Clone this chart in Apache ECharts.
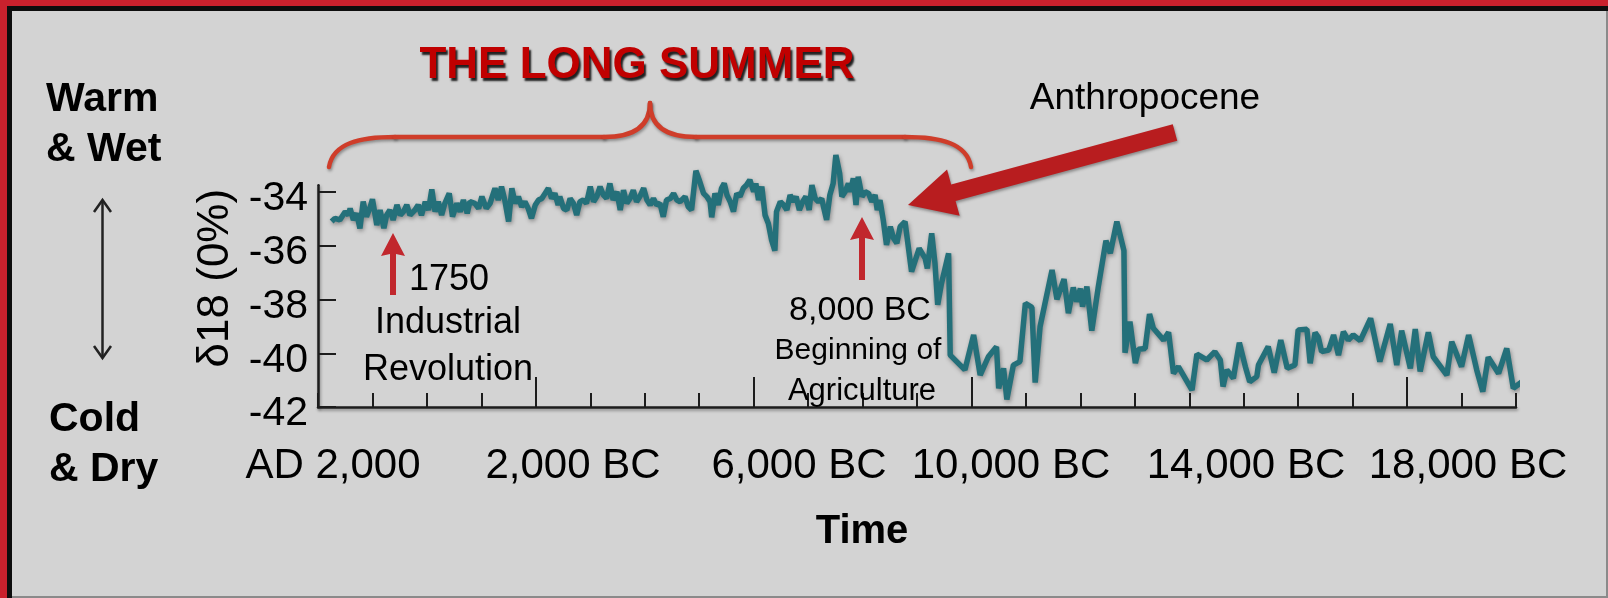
<!DOCTYPE html>
<html><head><meta charset="utf-8">
<script src="https://cdn.jsdelivr.net/npm/echarts@6/dist/echarts.min.js"></script>
<style>html,body{margin:0;padding:0;background:#d3d3d3;}#c{width:1608px;height:598px;}</style>
</head><body><div id="c"></div>
<script>
// ages in thousands of years before AD 2000, values = delta18O
const holoceneLate = [[0.25,-35.10],[0.31,-34.98],[0.40,-35.04],[0.50,-34.73],[0.56,-34.86],[0.59,-34.61],[0.65,-35.04],[0.71,-34.79],[0.77,-35.35],[0.83,-34.36],[0.89,-34.92],[0.96,-34.55],[1.00,-34.27],[1.08,-35.23],[1.14,-34.67],[1.21,-35.35],[1.26,-34.86],[1.32,-34.67],[1.38,-35.04],[1.45,-34.48],[1.51,-34.86],[1.57,-34.73],[1.63,-34.48],[1.69,-34.86],[1.78,-34.67],[1.84,-34.48],[1.90,-34.86],[1.97,-34.36],[2.03,-34.67],[2.09,-33.90],[2.15,-34.73],[2.21,-34.36],[2.27,-34.86],[2.33,-34.42],[2.41,-34.05],[2.47,-34.92],[2.55,-34.42],[2.61,-34.73],[2.67,-34.30],[2.74,-34.79],[2.79,-34.36],[2.88,-34.42],[2.95,-34.61],[3.01,-34.17],[3.09,-34.61],[3.16,-34.42],[3.25,-33.86],[3.31,-34.30],[3.37,-33.80],[3.43,-34.30],[3.50,-35.10],[3.56,-33.86],[3.62,-34.42],[3.68,-34.17],[3.74,-34.55],[3.80,-34.36],[3.86,-34.61],[3.92,-34.98],[3.99,-34.48],[4.05,-34.30],[4.11,-34.24],[4.17,-34.05],[4.23,-33.86],[4.29,-34.24],[4.35,-34.05],[4.41,-34.48],[4.44,-34.17],[4.51,-34.61],[4.57,-34.67],[4.63,-34.24],[4.69,-34.42],[4.75,-34.86],[4.81,-34.36],[4.87,-34.30],[4.93,-34.42],[5.00,-33.80],[5.06,-34.36],[5.12,-34.17],[5.18,-33.80],[5.24,-34.11],[5.30,-34.24],[5.36,-33.68],[5.42,-34.30],[5.49,-33.99],[5.55,-34.67],[5.61,-33.93],[5.67,-34.42],[5.73,-34.24],[5.79,-33.93],[5.85,-34.36],[5.91,-34.17],[5.98,-33.86],[6.04,-34.30],[6.10,-34.48],[6.16,-34.24],[6.22,-34.48],[6.28,-34.42],[6.34,-34.92],[6.40,-34.30],[6.47,-34.24],[6.53,-34.05],[6.59,-34.30]];
const holoceneEarly = [[6.65,-34.36],[6.74,-34.17],[6.80,-34.55],[6.86,-34.67],[6.94,-33.21],[7.00,-33.55],[7.08,-34.05],[7.14,-34.17],[7.20,-34.36],[7.23,-34.94],[7.29,-34.05],[7.35,-34.48],[7.41,-33.86],[7.46,-33.68],[7.51,-34.11],[7.57,-34.36],[7.63,-34.73],[7.69,-34.05],[7.75,-34.17],[7.81,-33.86],[7.87,-33.74],[7.93,-33.55],[8.00,-33.99],[8.04,-33.68],[8.09,-34.30],[8.15,-33.80],[8.21,-34.86],[8.27,-35.17],[8.33,-35.79],[8.39,-36.18],[8.42,-34.73],[8.49,-34.36],[8.55,-34.48],[8.61,-34.67],[8.67,-34.11],[8.73,-34.36],[8.78,-34.17],[8.84,-34.67],[8.90,-34.36],[8.96,-34.17],[9.02,-34.67],[9.07,-33.74],[9.13,-34.24],[9.19,-34.36],[9.25,-34.24],[9.29,-34.61],[9.34,-35.04],[9.40,-34.11],[9.46,-33.68],[9.51,-32.62],[9.58,-33.31],[9.62,-34.17],[9.68,-33.99],[9.74,-33.68],[9.78,-33.99],[9.83,-33.49],[9.88,-34.48],[9.92,-33.43],[9.99,-34.17],[10.05,-33.99],[10.11,-34.05],[10.17,-34.36],[10.23,-34.11],[10.27,-34.67],[10.32,-34.30],[10.38,-35.04],[10.44,-35.97],[10.51,-35.29],[10.57,-35.72],[10.63,-35.91],[10.69,-35.29]];
const deglacial = [[10.78,-35.10],[10.90,-36.96],[11.04,-36.10],[11.15,-36.47],[11.19,-36.84],[11.27,-35.54],[11.33,-36.65],[11.38,-38.20],[11.45,-37.40],[11.58,-36.28],[11.61,-40.07],[11.88,-40.62],[12.04,-39.32],[12.16,-40.81],[12.31,-40.13],[12.46,-39.76],[12.50,-41.31],[12.59,-40.56],[12.65,-41.72],[12.77,-40.44],[12.89,-40.31],[12.99,-38.14],[13.11,-38.29],[13.17,-41.09],[13.26,-39.01],[13.48,-36.90],[13.57,-37.99],[13.70,-37.24],[13.78,-38.51],[13.87,-37.55],[13.93,-38.08],[14.00,-37.59],[14.04,-38.27],[14.12,-37.52],[14.21,-39.16],[14.33,-37.52],[14.47,-35.81],[14.55,-36.28],[14.67,-35.10],[14.80,-36.18],[14.82,-39.98],[14.91,-38.82],[15.01,-40.37],[15.07,-39.85],[15.19,-39.82],[15.27,-38.54],[15.34,-39.07],[15.53,-39.51],[15.62,-39.22],[15.71,-40.75],[15.80,-40.50],[16.05,-41.37],[16.14,-40.03]];
const glacial = [[16.32,-40.25],[16.47,-39.94],[16.57,-40.25],[16.62,-41.24],[16.69,-40.62],[16.81,-40.93],[16.92,-39.61],[17.03,-40.50],[17.11,-41.06],[17.24,-40.87],[17.27,-40.44],[17.45,-39.75],[17.56,-40.72],[17.68,-39.51],[17.80,-40.56],[17.94,-40.44],[18.00,-39.13],[18.16,-39.11],[18.22,-40.37],[18.31,-39.23],[18.37,-39.41],[18.43,-39.94],[18.56,-39.88],[18.65,-39.32],[18.74,-40.07],[18.83,-39.20],[18.92,-39.51],[19.01,-39.32],[19.14,-39.53],[19.33,-38.70],[19.50,-40.31],[19.69,-38.91],[19.81,-40.44],[19.90,-39.16],[20.06,-40.56],[20.15,-39.10],[20.24,-40.68],[20.39,-39.22],[20.48,-40.13],[20.73,-40.81],[20.82,-39.57],[21.00,-40.50],[21.13,-39.32],[21.28,-40.63],[21.39,-41.43],[21.49,-40.15],[21.68,-40.75],[21.83,-39.82],[21.95,-41.30],[22.11,-41.06]];

const yTicks = [-42, -40, -38, -36, -34];
const longTicks = [4, 8, 12, 20];
const xLabels = ['AD 2,000', '2,000 BC', '6,000 BC', '10,000 BC', '14,000 BC', '18,000 BC'];
const yTitle = 'δ18 (0%)';

const FONT = "'Liberation Sans', Arial, Helvetica, sans-serif";
const TEAL = '#24707a';
const AXIS = '#1c1c1c';
const RED = '#c1272d';
const TEXT_DY = 5;
// small horizontal nudges (px) for the time labels, as laid out on the slide
const labelNudge = [0, 13, 12, -3, 5, 0];

const series = holoceneLate.concat(holoceneEarly, deglacial, glacial);

function txt(text, x, y, size, opts) {
  opts = opts || {};
  return {
    type: 'text', z: 50,
    style: Object.assign({
      text: text, x: x, y: y + TEXT_DY,
      font: (opts.bold ? 'bold ' : '') + size + 'px ' + FONT,
      fill: opts.fill || '#000',
      align: opts.align || 'center', verticalAlign: 'middle'
    }, opts.extra || {})
  };
}

const chart = echarts.init(document.getElementById('c'), null, {renderer: 'canvas'});
const shadow = {shadowBlur: 3, shadowColor: 'rgba(0,0,0,0.35)', shadowOffsetX: 1, shadowOffsetY: 2};

// Anthropocene arrow geometry
const tip = [908, 205], tail = [1175, 132.5];
const dx = tail[0] - tip[0], dy = tail[1] - tip[1], len = Math.hypot(dx, dy);
const ux = dx / len, uy = dy / len, nx = -uy, ny = ux;
const hl = 47, hw = 24, sw = 8.5;
const bx = tip[0] + ux * hl, by = tip[1] + uy * hl;
const bigArrow = [
  tip,
  [bx + nx * hw, by + ny * hw], [bx + nx * sw, by + ny * sw],
  [tail[0] + nx * sw, tail[1] + ny * sw], [tail[0] - nx * sw, tail[1] - ny * sw],
  [bx - nx * sw, by - ny * sw], [bx - nx * hw, by - ny * hw]
];
function upArrow(x, yTip, yTail) {
  return [[x, yTip], [x + 12, yTip + 23], [x + 3, yTip + 21], [x + 3, yTail], [x - 3, yTail], [x - 3, yTip + 21], [x - 12, yTip + 23]];
}
const braceStyle = Object.assign({stroke: '#cf3d2a', lineWidth: 4.5, fill: null, lineCap: 'round'}, shadow);
function bez(p1, c1, c2, p2) {
  return {type: 'bezierCurve', z: 40, shape: {x1: p1[0], y1: p1[1], cpx1: c1[0], cpy1: c1[1], cpx2: c2[0], cpy2: c2[1], x2: p2[0], y2: p2[1]}, style: braceStyle};
}
function seg(p1, p2) {
  return {type: 'line', z: 40, shape: {x1: p1[0], y1: p1[1], x2: p2[0], y2: p2[1]}, style: braceStyle};
}

const labelRich = {};
labelNudge.forEach(function (n, i) {
  labelRich['l' + i] = {
    fontSize: 42, fontFamily: FONT, color: '#000',
    padding: n >= 0 ? [0, 0, 0, 2 * n] : [0, -2 * n, 0, 0]
  };
});

chart.setOption({
  backgroundColor: '#d3d3d3',
  animation: false,
  grid: [
    {left: 318, right: 92, top: 185.3, bottom: 191, containLabel: false},
    {left: 333, right: 140, top: 300, bottom: 191, containLabel: false}
  ],
  xAxis: [
    {
      gridIndex: 0, type: 'value', min: 0, max: 22, interval: 1, position: 'bottom',
      axisLine: {show: true, onZero: false, lineStyle: Object.assign({color: AXIS, width: 2.5}, shadow)},
      axisTick: {show: true, inside: true, length: 14, lineStyle: {color: AXIS, width: 2}},
      axisLabel: {show: false}, splitLine: {show: false}
    },
    {
      gridIndex: 0, type: 'value', min: 0, max: 22, interval: 1, position: 'bottom', offset: 0,
      axisLine: {show: false},
      axisTick: {show: true, inside: true, length: 30, customValues: longTicks, lineStyle: {color: AXIS, width: 2}},
      axisLabel: {show: false}, splitLine: {show: false}
    },
    {
      gridIndex: 1, type: 'category', boundaryGap: false, data: xLabels,
      axisLine: {show: false}, axisTick: {show: false},
      axisLabel: {
        show: true, interval: 0, margin: 38, color: '#000', fontSize: 42, fontFamily: FONT,
        formatter: function (v, i) { return '{l' + i + '|' + v + '}'; },
        rich: labelRich
      },
      splitLine: {show: false}
    }
  ],
  yAxis: [
    {
      gridIndex: 0, type: 'value', min: -42, max: -33.75, interval: 2,
      name: yTitle, nameLocation: 'middle', nameRotate: 90, nameGap: 76,
      nameTextStyle: {color: '#000', fontSize: 44, fontFamily: FONT, padding: [0, 0, 0, 36]},
      axisLine: {show: true, onZero: false, lineStyle: Object.assign({color: AXIS, width: 2.5}, shadow)},
      axisTick: {show: true, inside: true, length: 18, customValues: yTicks, lineStyle: {color: AXIS, width: 2}},
      axisLabel: {
        show: true, customValues: yTicks, margin: 10, color: '#000', fontSize: 41, fontFamily: FONT,
        formatter: function (v) { return '{t|' + v + '}'; },
        rich: {t: {fontSize: 41, fontFamily: FONT, color: '#000', padding: [14, 0, 0, 0]}}
      },
      splitLine: {show: false}
    },
    {gridIndex: 1, type: 'value', show: false}
  ],
  series: [{
    type: 'line', xAxisIndex: 0, yAxisIndex: 0, data: series,
    showSymbol: false, clip: false, z: 5,
    lineStyle: {color: TEAL, width: 5.5, shadowBlur: 4, shadowColor: 'rgba(0,0,0,0.35)', shadowOffsetX: 1, shadowOffsetY: 2},
    silent: true
  }],
  graphic: {elements: [
    // frame
    {type: 'rect', z: 100, shape: {x: 0, y: 0, width: 1608, height: 6}, style: {fill: '#c9212d'}},
    {type: 'rect', z: 100, shape: {x: 0, y: 0, width: 7, height: 598}, style: {fill: '#c9212d'}},
    {type: 'rect', z: 100, shape: {x: 7, y: 6, width: 1601, height: 5}, style: {fill: '#0d0d0d'}},
    {type: 'rect', z: 100, shape: {x: 7, y: 6, width: 5, height: 592}, style: {fill: '#0d0d0d'}},
    {type: 'rect', z: 100, shape: {x: 1606, y: 11, width: 2, height: 587}, style: {fill: '#8a8a8a'}},
    {type: 'rect', z: 100, shape: {x: 12, y: 596, width: 1596, height: 2}, style: {fill: '#8a8a8a'}},
    // left labels
    txt('Warm', 46, 95, 41, {bold: true, align: 'left'}),
    txt('& Wet', 46, 145, 41, {bold: true, align: 'left'}),
    txt('Cold', 49, 415, 41, {bold: true, align: 'left'}),
    txt('& Dry', 49, 465, 41, {bold: true, align: 'left'}),
    // double arrow
    {type: 'line', z: 50, shape: {x1: 102.5, y1: 201, x2: 102.5, y2: 357}, style: {stroke: '#222', lineWidth: 2.5}},
    {type: 'polyline', z: 50, shape: {points: [[94, 212], [102.5, 200], [111, 212]]}, style: {stroke: '#222', lineWidth: 2.5, fill: null}},
    {type: 'polyline', z: 50, shape: {points: [[94, 346], [102.5, 358], [111, 346]]}, style: {stroke: '#222', lineWidth: 2.5, fill: null}},
    // title
    txt('THE LONG SUMMER', 637, 61, 44, {bold: true, fill: '#c00000', extra: {textShadowColor: 'rgba(0,0,0,0.85)', textShadowBlur: 2, textShadowOffsetX: 2, textShadowOffsetY: 3}}),
    // brace
    bez([329, 167], [333, 143], [360, 137], [395, 137]),
    seg([395, 137], [604, 137]),
    bez([604, 137], [636, 137], [650, 125], [650, 103]),
    bez([650, 103], [650, 125], [664, 137], [696, 137]),
    seg([696, 137], [905, 137]),
    bez([905, 137], [940, 137], [967, 143], [971, 167]),
    // Anthropocene
    txt('Anthropocene', 1145, 94, 37),
    {type: 'polygon', z: 45, shape: {points: bigArrow}, style: Object.assign({fill: '#b81d1f'}, shadow)},
    // 1750
    {type: 'polygon', z: 45, shape: {points: upArrow(393, 233, 295)}, style: {fill: RED}},
    txt('1750', 449, 275, 36),
    txt('Industrial', 448, 318, 36),
    txt('Revolution', 448, 365, 36),
    // 8000 BC
    {type: 'polygon', z: 45, shape: {points: upArrow(862, 217, 280)}, style: {fill: RED}},
    txt('8,000 BC', 860, 306, 34),
    txt('Beginning of', 858, 346, 30),
    txt('Agriculture', 862, 386, 31),
    // Time
    txt('Time', 862, 527, 40, {bold: true})
  ]}
});
</script>
</body></html>
